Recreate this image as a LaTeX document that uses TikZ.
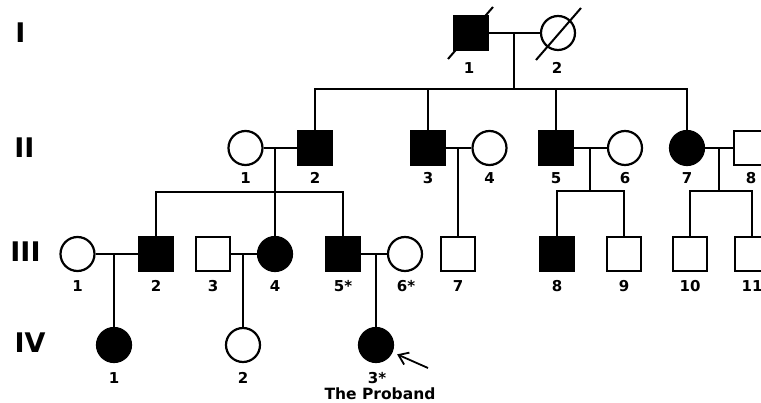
\documentclass[tikz,border=0pt]{standalone}
\usepackage{fontspec}
\setmainfont{DejaVu Sans}
\usetikzlibrary{arrows.meta}
\tikzset{
  pline/.style={line width=2.2pt},
  male/.style={draw, rectangle, minimum size=34pt, inner sep=0pt, line width=2.2pt, fill=white},
  female/.style={draw, circle, minimum size=34pt, inner sep=0pt, line width=2.2pt, fill=white},
  aff/.style={fill=black},
  num/.style={font=\fontsize{15}{17}\selectfont\bfseries, inner sep=0pt},
  gen/.style={font=\fontsize{27}{29}\selectfont\bfseries, inner sep=0pt},
  dead/.style={line width=2pt}
}
\begin{document}
\begin{tikzpicture}[x=1pt, y=-1pt]
\clip (0,0) rectangle (761,403);
\fill[white] (0,0) rectangle (761,403);

% generation labels
\node[gen] (gI) at (20.5,33) {I};
\node[gen] (gII) at (24.5,148) {II};
\node[gen] (gIII) at (25.5,252) {III};
\node[gen] (gIV) at (30,343) {IV};

% ---------- generation I
\node[male, aff] (I1) at (471,33) {};
\node[female] (I2) at (558,33) {};
\node[num] (lI1) at (469,68) {1};
\node[num] (lI2) at (557,68) {2};
\draw[dead] (I1) ++(-23,26) -- ++(45,-52);
\draw[dead] (I2) ++(-22,27) -- ++(45,-52);

% ---------- generation II
\node[female] (II1) at (245.5,148) {};
\node[male, aff] (II2) at (315,148) {};
\node[male, aff] (II3) at (428,148) {};
\node[female] (II4) at (489.5,148) {};
\node[male, aff] (II5) at (556,148) {};
\node[female] (II6) at (625,148) {};
\node[female, aff] (II7) at (687,148) {};
\node[male] (II8) at (751,148) {};
\foreach \n/\x/\t in {II1/245.5/1, II2/315/2, II3/428/3, II4/489.5/4, II5/556/5, II6/625/6, II7/687/7, II8/751/8}
  \node[num] (l\n) at (\x,178) {\t};

% ---------- generation III
\node[female] (III1) at (77.5,254) {};
\node[male, aff] (III2) at (156,254) {};
\node[male] (III3) at (213,254) {};
\node[female, aff] (III4) at (275,254) {};
\node[male, aff] (III5) at (343,254) {};
\node[female] (III6) at (405,254) {};
\node[male] (III7) at (458,254) {};
\node[male, aff] (III8) at (557,254) {};
\node[male] (III9) at (624,254) {};
\node[male] (III10) at (690,254) {};
\node[male] (III11) at (752,254) {};
\foreach \n/\x/\t in {III1/77.5/1, III2/156/2, III3/213/3, III4/275/4, III5/343/5*, III6/406/6*, III7/458/7, III8/557/8, III9/624/9, III10/690/10, III11/752/11}
  \node[num] (l\n) at (\x,286) {\t};

% ---------- generation IV
\node[female, aff] (IV1) at (114,345) {};
\node[female] (IV2) at (243,345) {};
\node[female, aff] (IV3) at (376,345) {};
\node[num] (lIV1) at (114,378) {1};
\node[num] (lIV2) at (243,378) {2};
\node[num] (lIV3) at (377,378) {3*};
\node[num, font=\fontsize{15.5}{17}\selectfont\bfseries] (prob) at (380,394) {The Proband};

% ---------- marriage lines
\draw[pline] (I1) -- (I2);
\draw[pline] (II1) -- (II2);
\draw[pline] (II3) -- (II4);
\draw[pline] (II5) -- (II6);
\draw[pline] (II7) -- (II8);
\draw[pline] (III1) -- (III2);
\draw[pline] (III3) -- (III4);
\draw[pline] (III5) -- (III6);

% ---------- descent: I
\coordinate (mI) at (514,33);
\coordinate (sI) at (514,89);
\draw[pline] (mI) -- (sI);
\draw[pline] (II2.north) |- (sI);
\draw[pline] (II7.north) |- (sI);
\draw[pline] (II3.north) -- (II3.north |- sI);
\draw[pline] (II5.north) -- (II5.north |- sI);

% ---------- descent: II1 x II2
\coordinate (mII12) at (275,148);
\draw[pline] (mII12) -- (III4.north);
\coordinate (sII12) at (275,192);
\draw[pline] (III2.north) |- (sII12);
\draw[pline] (III5.north) |- (sII12);

% ---------- descent: II3 x II4
\coordinate (mII34) at (458,148);
\draw[pline] (mII34) -- (III7.north);

% ---------- descent: II5 x II6
\coordinate (mII56) at (590,148);
\coordinate (sII56) at (590,191);
\draw[pline] (mII56) -- (sII56);
\draw[pline] (III8.north) |- (sII56);
\draw[pline] (III9.north) |- (sII56);

% ---------- descent: II7 x II8
\coordinate (mII78) at (719,148);
\coordinate (sII78) at (719,191);
\draw[pline] (mII78) -- (sII78);
\draw[pline] (III10.north) |- (sII78);
\draw[pline] (III11.north) |- (sII78);

% ---------- descent: generation III
\coordinate (mIII12) at (114,254);
\draw[pline] (mIII12) -- (IV1.north);
\coordinate (mIII34) at (243,254);
\draw[pline] (mIII34) -- (IV2.north);
\coordinate (mIII56) at (376,254);
\draw[pline] (mIII56) -- (IV3.north);

% ---------- proband arrow
\coordinate (arrS) at (428,368);
\draw[line width=1.8pt, shorten >=5pt, -{Straight Barb[length=9pt, width=13pt]}] (arrS) -- (IV3);
\end{tikzpicture}
\end{document}
